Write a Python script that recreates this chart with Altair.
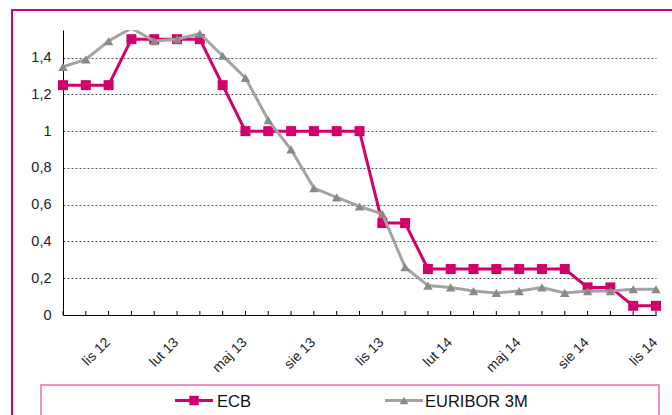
import altair as alt
import pandas as pd

months = ["wrz 12", "paź 12", "lis 12", "gru 12", "sty 13", "lut 13", "mar 13", "kwi 13",
          "maj 13", "cze 13", "lip 13", "sie 13", "wrz 13", "paź 13", "lis 13", "gru 13",
          "sty 14", "lut 14", "mar 14", "kwi 14", "maj 14", "cze 14", "lip 14", "sie 14",
          "wrz 14", "paź 14", "lis 14"]
ecb = [1.25, 1.25, 1.25, 1.5, 1.5, 1.5, 1.5, 1.25, 1.0, 1.0, 1.0, 1.0, 1.0, 1.0,
       0.5, 0.5, 0.25, 0.25, 0.25, 0.25, 0.25, 0.25, 0.25, 0.15, 0.15, 0.05, 0.05]
euribor = [1.35, 1.39, 1.49, 1.56, 1.49, 1.50, 1.53, 1.41, 1.29, 1.06, 0.90, 0.69, 0.64, 0.59,
           0.55, 0.26, 0.16, 0.15, 0.13, 0.12, 0.13, 0.15, 0.12, 0.13, 0.13, 0.14, 0.14]
series_names = ["ECB", "EURIBOR 3M"]
y_ticks = [0, 0.2, 0.4, 0.6, 0.8, 1.0, 1.2, 1.4]
Y_MAX = 1.55

MAGENTA = "#d1006b"
GRAY_LINE = "#a3a3a3"
GRAY_MARK = "#8a8a8a"
FONT = "Liberation Sans"

W, H = 593, 285
n = len(months)
idx = list(range(n))

df = pd.DataFrame({
    "i": idx * 2,
    "month": months * 2,
    "series": [series_names[0]] * n + [series_names[1]] * n,
    "value": ecb + euribor,
})
ticks_df = pd.DataFrame({"i": idx})

label_js = "[" + ",".join("'" + m + "'" for m in months) + "]"
x_label_expr = "datum.value % 3 == 2 ? " + label_js + "[datum.value] : ''"

x_enc = alt.X(
    "i:Q",
    scale=alt.Scale(domain=[0, n - 1], nice=False, zero=False),
    axis=alt.Axis(
        title=None, values=idx, labelExpr=x_label_expr, grid=False, ticks=False, tickSize=0,
        domainColor="#000000", domainWidth=1, labelAngle=-45, labelAlign="right",
        labelBaseline="top", labelPadding=20, labelOffset=-6, labelFont=FONT,
        labelFontSize=14, labelColor="#222222", labelOverlap=False, labelFlush=False,
    ),
)
y_enc = alt.Y(
    "value:Q",
    scale=alt.Scale(domain=[0, Y_MAX], nice=False, zero=True),
    axis=alt.Axis(
        title=None, values=y_ticks, ticks=False, tickSize=0,
        labelExpr="replace(format(datum.value, '.1~f'), '.', ',')",
        grid=True, gridColor="#555555", gridDash=[2, 2], gridWidth=1,
        domainColor="#000000", domainWidth=1, labelPadding=12, labelFont=FONT,
        labelFontSize=14.5, labelColor="#222222",
    ),
)

one = pd.DataFrame({"a": [0]})

outer = alt.Chart(one).mark_rect(filled=False, stroke=MAGENTA, strokeWidth=2).encode(
    x=alt.value(-51), x2=alt.value(W + 60), y=alt.value(-20), y2=alt.value(H + 120)
)
legend_box = alt.Chart(one).mark_rect(filled=False, stroke="#ee93c2", strokeWidth=2).encode(
    x=alt.value(-22), x2=alt.value(596), y=alt.value(355), y2=alt.value(H + 120)
)

tick_marks = alt.Chart(ticks_df).mark_rule(color="#000000", strokeWidth=1).encode(
    x=x_enc, y=alt.value(H - 4), y2=alt.value(H)
)

ecb_base = alt.Chart(df).transform_filter(alt.datum.series == series_names[0])
ecb_line = ecb_base.mark_line(color=MAGENTA, strokeWidth=3).encode(x=x_enc, y=y_enc)
ecb_pts = ecb_base.mark_point(shape="square", size=100, filled=True, color=MAGENTA,
                              opacity=1).encode(x=x_enc, y=y_enc)

eur_base = alt.Chart(df).transform_filter(alt.datum.series == series_names[1])
eur_line = eur_base.mark_line(color=GRAY_LINE, strokeWidth=3, clip=True).encode(x=x_enc, y=y_enc)
# markers outside the value axis range are not drawn (as in the source chart)
eur_pts = eur_base.transform_filter(alt.datum.value <= Y_MAX).mark_point(
    shape="triangle-up", size=90, filled=True, color=GRAY_MARK, opacity=1
).encode(x=x_enc, y=y_enc)

leg_y = 370.5
leg_items = []
specs = [
    (series_names[0], 112, 150, 131, "square", 90, MAGENTA, MAGENTA, 154),
    (series_names[1], 322, 360, 341, "triangle-up", 80, GRAY_LINE, GRAY_MARK, 362),
]
for name, lx1, lx2, mx, shape, size, lcol, mcol, tx in specs:
    leg_items.append(alt.Chart(one).mark_rule(color=lcol, strokeWidth=3).encode(
        x=alt.value(lx1), x2=alt.value(lx2), y=alt.value(leg_y)))
    leg_items.append(alt.Chart(one).mark_point(shape=shape, size=size, filled=True, color=mcol, opacity=1).encode(
        x=alt.value(mx), y=alt.value(leg_y)))
    leg_items.append(alt.Chart(one).mark_text(align="left", baseline="middle", font=FONT, fontSize=16.5,
                                               color="#111111").encode(
        x=alt.value(tx), y=alt.value(leg_y + 1), text=alt.value(name)))

chart = alt.layer(outer, legend_box, tick_marks, ecb_line, ecb_pts, eur_line, eur_pts,
                  *leg_items).properties(
    width=W, height=H,
    autosize=alt.AutoSizeParams(type="none"),
    padding={"left": 63, "top": 30, "right": 16, "bottom": 100},
    background="white",
).configure_view(stroke=None)

chart.save("out.html", embed_options={"renderer": "svg", "actions": False})
